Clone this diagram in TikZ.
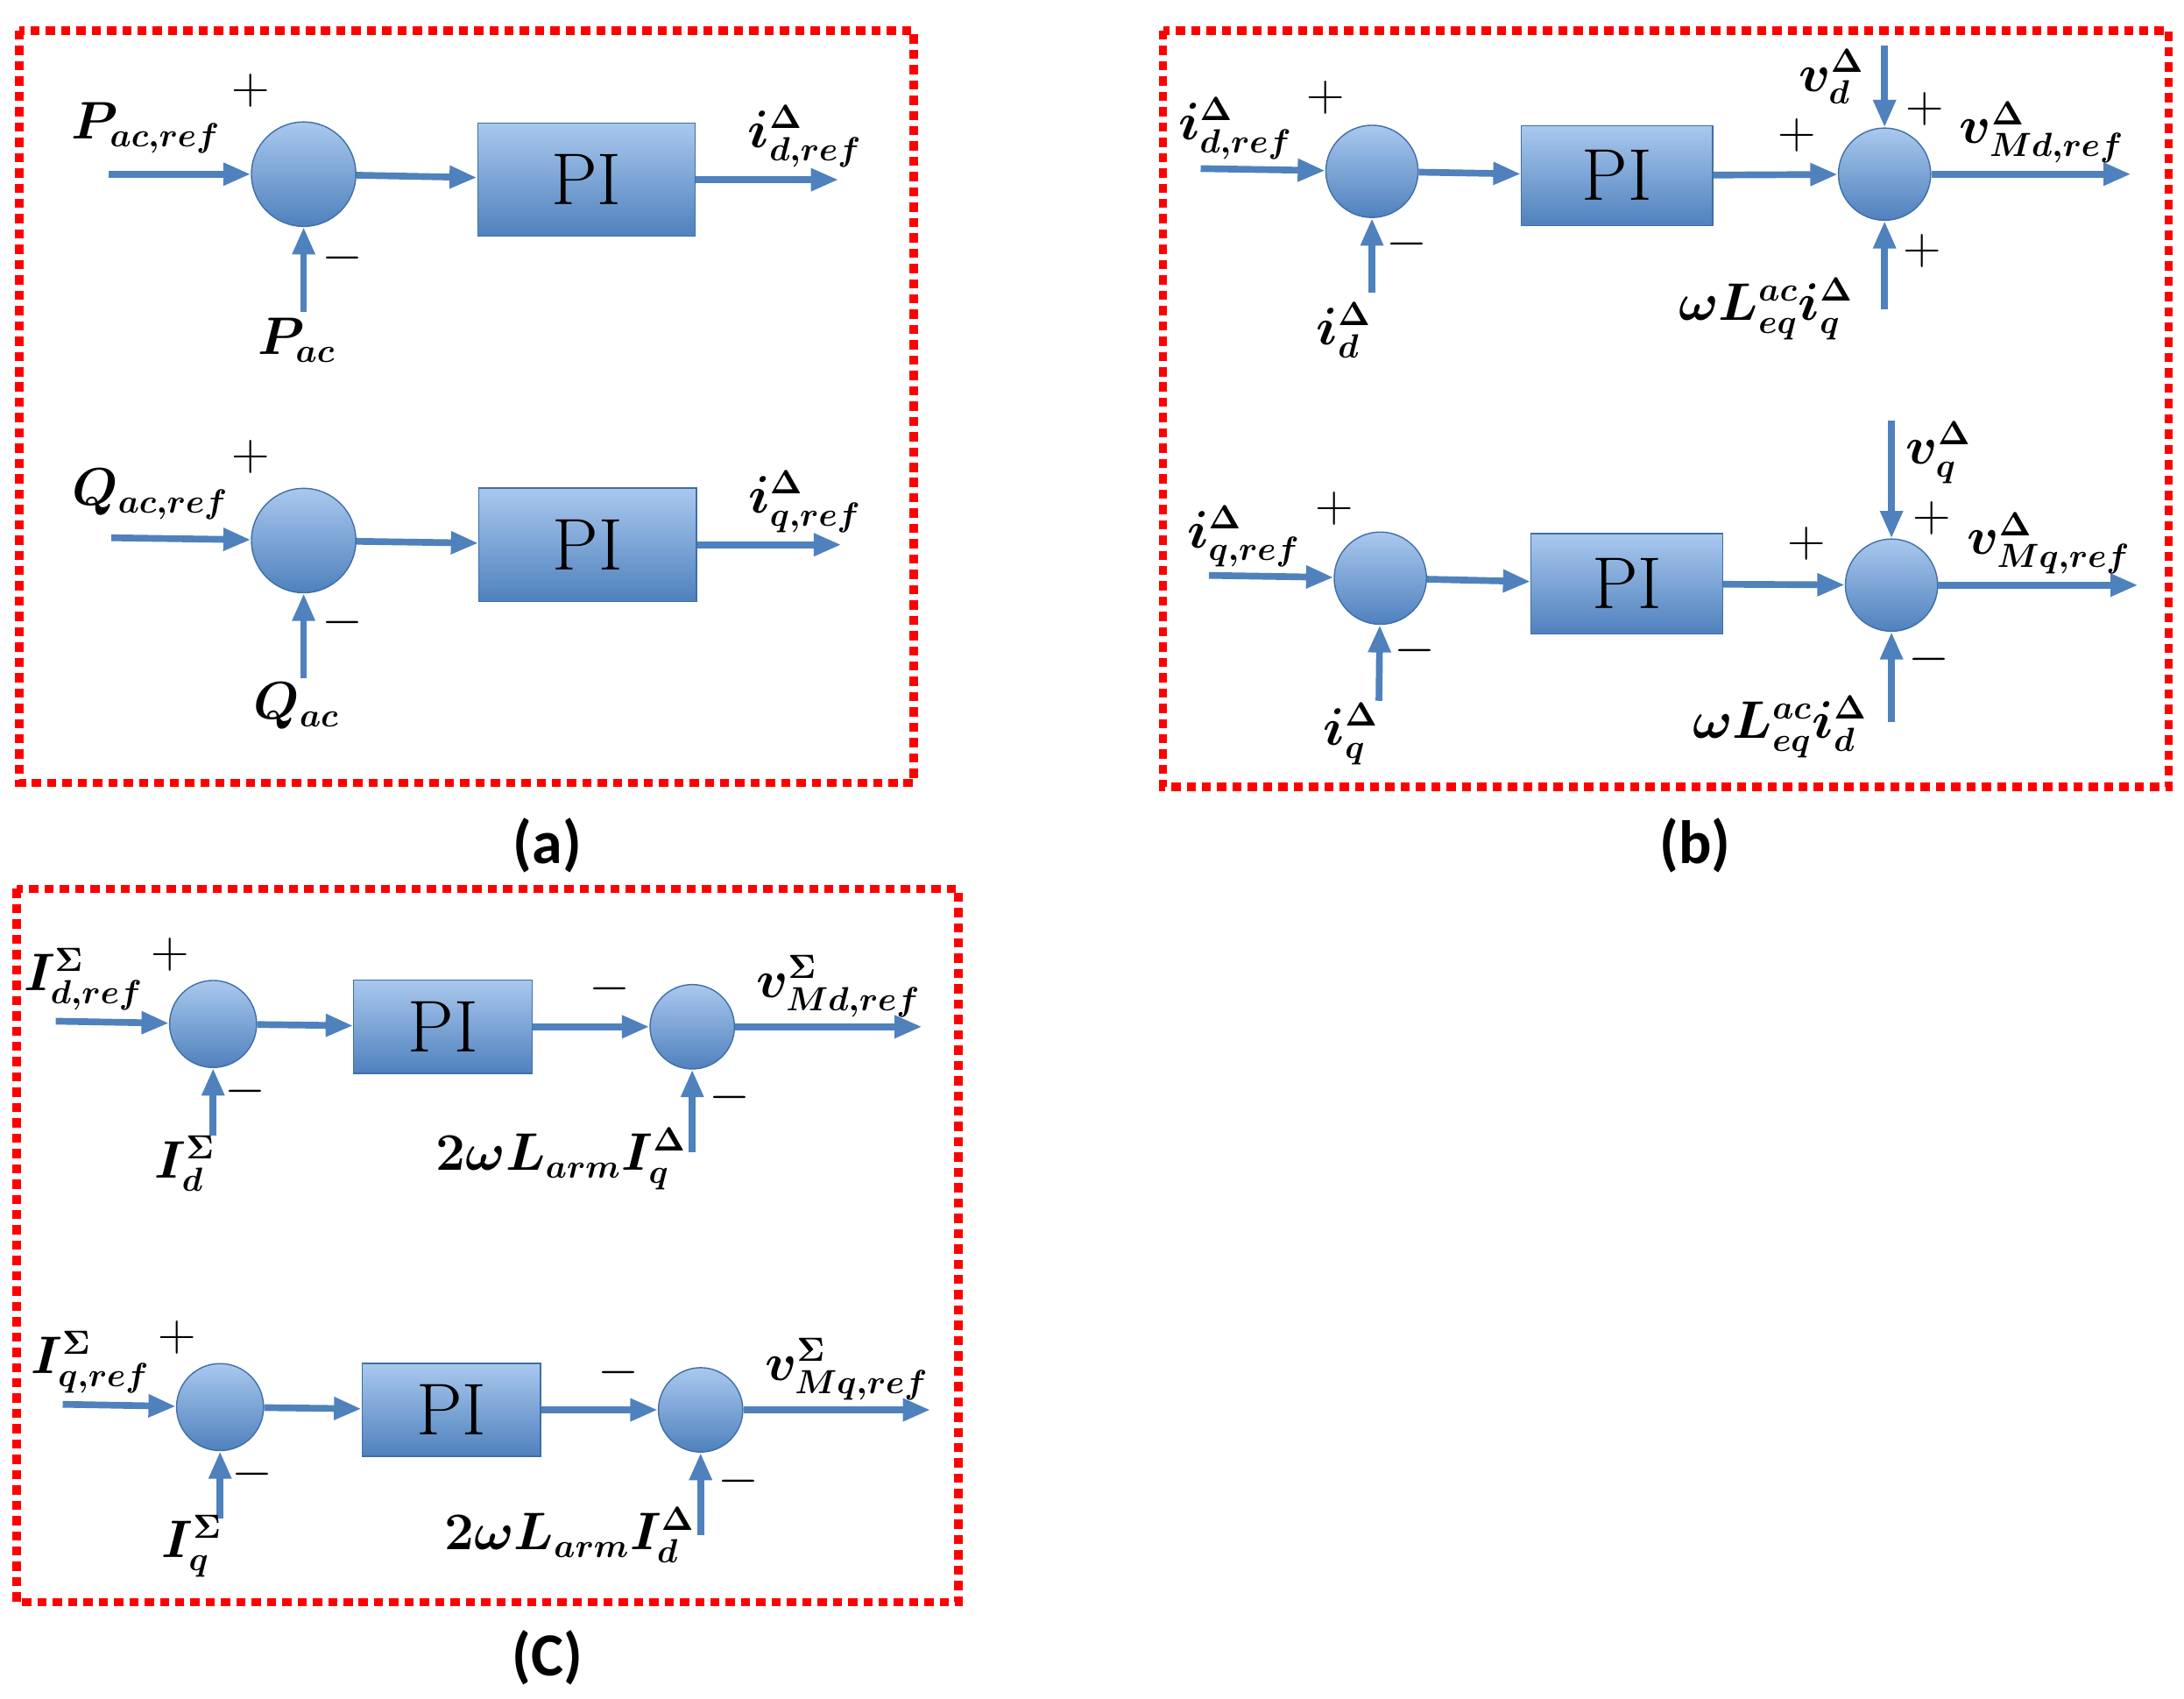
\documentclass[tikz,border=0pt]{standalone}
\usepackage{bm}
\usepackage{fontspec}
\newfontfamily\capfont{Carlito}
\usetikzlibrary{arrows.meta, shapes.geometric}
\definecolor{sigblue}{HTML}{4F81BD}
\definecolor{lightblue}{HTML}{A9C8EE}
\definecolor{edgeblue}{HTML}{3F6EA8}
\tikzset{
  sumnode/.style={ellipse, draw=edgeblue, top color=lightblue, bottom color=sigblue, minimum width=#1, minimum height=#1, inner sep=0pt},
  sumnode/.default=1.06cm,
  piblock/.style={draw=edgeblue, top color=lightblue, bottom color=sigblue, minimum width=#1, minimum height=1.15cm, font=\fontsize{24}{28}\selectfont},
  piblock/.default=2.2cm,
  sig/.style={-{Triangle[length=9pt,width=7pt]}, line width=2.2pt, sigblue},
  lbl/.style={font=\fontsize{16}{19}\selectfont},
  sgn/.style={font=\fontsize{18}{20}\selectfont},
  frame/.style={red, line width=2.8pt, dash pattern=on 3pt off 2pt},
  captxt/.style={font=\capfont\bfseries\fontsize{20}{24}\selectfont}
}
\begin{document}
\begin{tikzpicture}[x=0.016cm, y=-0.016cm]
\useasboundingbox (0,0) rectangle (1568,1219);

% ---------- (a)
\draw[frame] (14,22) rectangle (656,562);
\node[sumnode={1.2cm}] (sa1) at (218,125) {};
\node[piblock=2.5cm, minimum height=1.3cm] (pa1) at (421,129) {PI};
\coordinate (ina1) at (78,125);
\coordinate (outa1) at (602,129);
\coordinate (fba1) at (218,224);
\draw[sig] (ina1) -- (sa1);
\draw[sig] (sa1) -- (pa1);
\draw[sig] (pa1) -- (outa1);
\draw[sig] (fba1) -- (sa1);
\node[lbl] at (105,92) {$\bm{P_{ac,ref}}$};
\node[sgn] at (180,65) {$+$};
\node[sgn] at (246,185) {$-$};
\node[lbl] at (213,244) {$\bm{P_{ac}}$};
\node[lbl] at (578,98) {$\bm{i^{\Delta}_{d,ref}}$};

\node[sumnode={1.2cm}] (sa2) at (218,388) {};
\node[piblock=2.5cm, minimum height=1.3cm] (pa2) at (422,391) {PI};
\coordinate (ina2) at (80,386);
\coordinate (outa2) at (604,391);
\coordinate (fba2) at (218,487);
\draw[sig] (ina2) -- (sa2);
\draw[sig] (sa2) -- (pa2);
\draw[sig] (pa2) -- (outa2);
\draw[sig] (fba2) -- (sa2);
\node[lbl] at (108,355) {$\bm{Q_{ac,ref}}$};
\node[sgn] at (180,328) {$+$};
\node[sgn] at (246,447) {$-$};
\node[lbl] at (213,507) {$\bm{Q_{ac}}$};
\node[lbl] at (578,360) {$\bm{i^{\Delta}_{q,ref}}$};
\node[captxt] at (393,607) {(a)};

% ---------- (b)
\draw[frame] (835,22) rectangle (1557,565);
\node[sumnode] (sb1) at (985,123) {};
\node[piblock] (pb1) at (1161,126) {PI};
\node[sumnode] (sb2) at (1353,125) {};
\coordinate (inb1) at (862,121);
\coordinate (outb1) at (1530,125);
\coordinate (fbb1) at (985,210);
\coordinate (topb1) at (1353,33);
\coordinate (botb1) at (1353,222);
\draw[sig] (inb1) -- (sb1);
\draw[sig] (sb1) -- (pb1);
\draw[sig] (pb1) -- (sb2);
\draw[sig] (sb2) -- (outb1);
\draw[sig] (fbb1) -- (sb1);
\draw[sig] (topb1) -- (sb2);
\draw[sig] (botb1) -- (sb2);
\node[lbl] at (887,92) {$\bm{i^{\Delta}_{d,ref}}$};
\node[sgn] at (952,70) {$+$};
\node[sgn] at (1010,175) {$-$};
\node[lbl] at (965,237) {$\bm{i^{\Delta}_{d}}$};
\node[sgn] at (1290,97) {$+$};
\node[lbl] at (1315,55) {$\bm{v^{\Delta}_{d}}$};
\node[sgn] at (1382,78) {$+$};
\node[lbl] at (1466,95) {$\bm{v^{\Delta}_{Md,ref}}$};
\node[sgn] at (1380,180) {$+$};
\node[lbl] at (1268,222) {$\bm{\omega L^{ac}_{eq} i^{\Delta}_{q}}$};

\node[sumnode] (sb3) at (991,415) {};
\node[piblock] (pb2) at (1168,419) {PI};
\node[sumnode] (sb4) at (1358,420) {};
\coordinate (inb2) at (868,413);
\coordinate (outb2) at (1535,420);
\coordinate (fbb2) at (990,503);
\coordinate (topb2) at (1358,302);
\coordinate (botb2) at (1358,518);
\draw[sig] (inb2) -- (sb3);
\draw[sig] (sb3) -- (pb2);
\draw[sig] (pb2) -- (sb4);
\draw[sig] (sb4) -- (outb2);
\draw[sig] (fbb2) -- (sb3);
\draw[sig] (topb2) -- (sb4);
\draw[sig] (botb2) -- (sb4);
\node[lbl] at (893,385) {$\bm{i^{\Delta}_{q,ref}}$};
\node[sgn] at (1016,467) {$-$};
\node[sgn] at (958,365) {$+$};
\node[lbl] at (970,527) {$\bm{i^{\Delta}_{q}}$};
\node[sgn] at (1297,390) {$+$};
\node[lbl] at (1392,325) {$\bm{v^{\Delta}_{q}}$};
\node[sgn] at (1387,372) {$+$};
\node[lbl] at (1471,390) {$\bm{v^{\Delta}_{Mq,ref}}$};
\node[sgn] at (1385,473) {$-$};
\node[lbl] at (1278,522) {$\bm{\omega L^{ac}_{eq} i^{\Delta}_{d}}$};
\node[captxt] at (1217,607) {(b)};

% ---------- (c)
\draw[frame] (12,638) rectangle (688,1150);
\node[sumnode={1.0cm}] (sc1) at (153,735) {};
\node[piblock=2.05cm, minimum height=1.07cm] (pc1) at (318,737) {PI};
\node[sumnode={0.97cm}] (sc2) at (497,737) {};
\coordinate (inc1) at (40,733);
\coordinate (outc1) at (662,737);
\coordinate (fbc1) at (153,815);
\coordinate (botc1) at (497,827);
\draw[sig] (inc1) -- (sc1);
\draw[sig] (sc1) -- (pc1);
\draw[sig] (pc1) -- (sc2);
\draw[sig] (sc2) -- (outc1);
\draw[sig] (fbc1) -- (sc1);
\draw[sig] (botc1) -- (sc2);
\node[lbl] at (60,703) {$\bm{I^{\Sigma}_{d,ref}}$};
\node[sgn] at (122,685) {$+$};
\node[sgn] at (176,783) {$-$};
\node[lbl] at (133,835) {$\bm{I^{\Sigma}_{d}}$};
\node[sgn] at (438,710) {$-$};
\node[lbl] at (602,708) {$\bm{v^{\Sigma}_{Md,ref}}$};
\node[sgn] at (524,788) {$-$};
\node[lbl] at (403,832) {$\bm{2\omega L_{arm} I^{\Delta}_{q}}$};

\node[sumnode={1.0cm}] (sc3) at (158,1010) {};
\node[piblock=2.05cm, minimum height=1.07cm] (pc2) at (324,1012) {PI};
\node[sumnode={0.97cm}] (sc4) at (503,1012) {};
\coordinate (inc2) at (45,1008);
\coordinate (outc2) at (668,1012);
\coordinate (fbc2) at (158,1090);
\coordinate (botc2) at (503,1102);
\draw[sig] (inc2) -- (sc3);
\draw[sig] (sc3) -- (pc2);
\draw[sig] (pc2) -- (sc4);
\draw[sig] (sc4) -- (outc2);
\draw[sig] (fbc2) -- (sc3);
\draw[sig] (botc2) -- (sc4);
\node[lbl] at (65,978) {$\bm{I^{\Sigma}_{q,ref}}$};
\node[sgn] at (127,960) {$+$};
\node[sgn] at (181,1058) {$-$};
\node[lbl] at (138,1110) {$\bm{I^{\Sigma}_{q}}$};
\node[sgn] at (444,985) {$-$};
\node[lbl] at (608,983) {$\bm{v^{\Sigma}_{Mq,ref}}$};
\node[sgn] at (530,1063) {$-$};
\node[lbl] at (409,1102) {$\bm{2\omega L_{arm} I^{\Delta}_{d}}$};
\node[captxt] at (393,1190) {(C)};
\end{tikzpicture}
\end{document}
